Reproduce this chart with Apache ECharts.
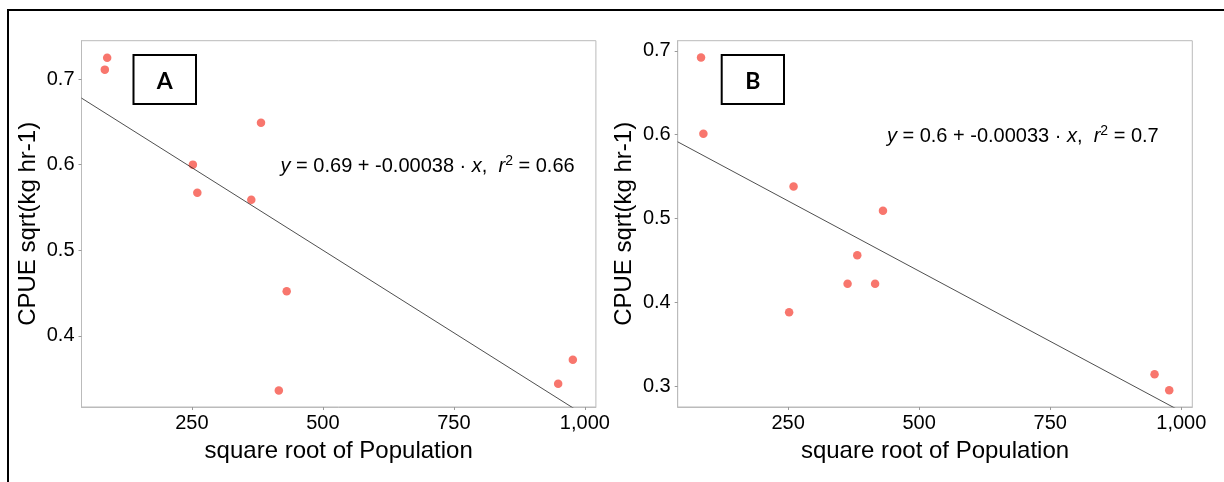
<!DOCTYPE html>
<html>
<head>
<meta charset="utf-8">
<script src="https://cdn.jsdelivr.net/npm/echarts@6/dist/echarts.min.js"></script>
<style>
  html, body { margin: 0; padding: 0; background: #fff; }
  #main { width: 1224px; height: 482px; }
</style>
</head>
<body>
<div id="main"></div>
<script>
// square root of Population (same sites in both panels)
var popA = [84, 88.5, 252, 260.5, 363.5, 382, 416, 431, 949, 977];
var cpueA = [0.711, 0.725, 0.600, 0.567, 0.559, 0.649, 0.336, 0.452, 0.344, 0.372];
var popB = [84, 88.5, 252, 260.5, 363.5, 382, 416, 431, 949, 977];
var cpueB = [0.692, 0.601, 0.388, 0.538, 0.422, 0.456, 0.422, 0.509, 0.314, 0.295];

// fitted lines
var intercepts = [0.693, 0.6046];
var slopes = [-0.000386, -0.000335];

var xTicks = [250, 500, 750, 1000];
var yTicksA = [0.4, 0.5, 0.6, 0.7];
var yTicksB = [0.3, 0.4, 0.5, 0.6, 0.7];

var xRange = [39.5, 1021];
var yRangeA = [0.3168, 0.7448];
var yRangeB = [0.2750, 0.7120];

var panelNames = ['A', 'B'];
var eqTexts = [
  '{i|y} = 0.69 + -0.00038 · {i|x},  {i|r}{s|2} = 0.66',
  '{i|y} = 0.6 + -0.00033 · {i|x},  {i|r}{s|2} = 0.7'
];

var FONT = 'Liberation Sans, Arial, sans-serif';
var pointColor = '#F8766D';

function pairs(xs, ys) {
  var out = [];
  for (var i = 0; i < xs.length; i++) out.push([xs[i], ys[i]]);
  return out;
}

function fitLine(k) {
  return [
    [xRange[0], intercepts[k] + slopes[k] * xRange[0]],
    [xRange[1], intercepts[k] + slopes[k] * xRange[1]]
  ];
}

function xAxisOf(idx) {
  return {
    type: 'value', gridIndex: idx,
    min: xRange[0], max: xRange[1],
    name: 'square root of Population',
    nameLocation: 'middle', nameGap: 32,
    nameTextStyle: { fontSize: 24, fontFamily: FONT, color: '#000' },
    axisLine: { show: true, lineStyle: { color: '#bbbbbb', width: 1 } },
    axisTick: { show: true, length: 3, customValues: xTicks, lineStyle: { color: '#999' } },
    axisLabel: {
      customValues: xTicks, margin: 6, fontSize: 20, fontFamily: FONT, color: '#000',
      formatter: function (v) { return v >= 1000 ? '1,000' : String(v); }
    },
    splitLine: { show: false }
  };
}

function yAxisOf(idx, range, ticks) {
  return {
    type: 'value', gridIndex: idx,
    min: range[0], max: range[1],
    name: 'CPUE sqrt(kg hr-1)',
    nameLocation: 'middle', nameGap: 41,
    nameTextStyle: { fontSize: 24, fontFamily: FONT, color: '#000' },
    axisLine: { show: true, lineStyle: { color: '#bbbbbb', width: 1 } },
    axisTick: { show: true, length: 3, customValues: ticks, lineStyle: { color: '#999' } },
    axisLabel: {
      customValues: ticks, margin: 7, fontSize: 20, fontFamily: FONT, color: '#000',
      formatter: function (v) { return v.toFixed(1); }
    },
    splitLine: { show: false }
  };
}

var chart = echarts.init(document.getElementById('main'), null, { renderer: 'canvas' });

var grids = [
  { left: 81.5, top: 40.7, width: 514.4, height: 366.3 },
  { left: 677.7, top: 40.7, width: 514.6, height: 366.3 }
];
var boxes = [
  { x: 133.5, y: 55, w: 62.5, h: 49 },
  { x: 721.7, y: 55, w: 62.3, h: 49 }
];
var eqPos = [[427.6, 166.7], [1022.8, 136.7]];

var graphics = [{
  type: 'rect', silent: true,
  shape: { x: 8, y: 10, width: 1400, height: 700 },
  style: { fill: 'none', stroke: '#000', lineWidth: 2 }
}];
for (var k = 0; k < 2; k++) {
  graphics.push({
    type: 'rect', silent: true,
    shape: { x: boxes[k].x, y: boxes[k].y, width: boxes[k].w, height: boxes[k].h },
    style: { fill: '#fff', stroke: '#000', lineWidth: 2 }
  });
  graphics.push({
    type: 'text', silent: true,
    x: boxes[k].x + boxes[k].w / 2, y: boxes[k].y + boxes[k].h / 2 + 2,
    style: {
      text: panelNames[k], fill: '#000', fontSize: 23, fontWeight: 'bold',
      fontFamily: 'Lato, Liberation Sans, sans-serif', align: 'center', verticalAlign: 'middle'
    }
  });
  graphics.push({
    type: 'text', silent: true,
    x: eqPos[k][0], y: eqPos[k][1],
    style: {
      text: eqTexts[k], fill: '#000', fontSize: 20, fontFamily: FONT,
      align: 'center', verticalAlign: 'middle',
      rich: {
        i: { fontSize: 20, fontStyle: 'italic', fontFamily: FONT, fill: '#000' },
        s: { fontSize: 14, fontFamily: FONT, fill: '#000', verticalAlign: 'top', padding: [0, 0, 12, 0] }
      }
    }
  });
}

var option = {
  backgroundColor: '#fff',
  animation: false,
  grid: grids.map(function (g) {
    return {
      left: g.left, top: g.top, width: g.width, height: g.height,
      containLabel: false, outerBoundsMode: 'none',
      show: true, borderColor: '#bbbbbb', borderWidth: 1, backgroundColor: 'transparent'
    };
  }),
  xAxis: [xAxisOf(0), xAxisOf(1)],
  yAxis: [yAxisOf(0, yRangeA, yTicksA), yAxisOf(1, yRangeB, yTicksB)],
  series: [
    {
      type: 'line', xAxisIndex: 0, yAxisIndex: 0, data: fitLine(0),
      symbol: 'none', clip: true, silent: true,
      lineStyle: { color: '#222', width: 0.8 }
    },
    {
      type: 'scatter', xAxisIndex: 0, yAxisIndex: 0, data: pairs(popA, cpueA),
      symbolSize: 8.5, itemStyle: { color: pointColor, opacity: 1 }
    },
    {
      type: 'line', xAxisIndex: 1, yAxisIndex: 1, data: fitLine(1),
      symbol: 'none', clip: true, silent: true,
      lineStyle: { color: '#222', width: 0.8 }
    },
    {
      type: 'scatter', xAxisIndex: 1, yAxisIndex: 1, data: pairs(popB, cpueB),
      symbolSize: 8.5, itemStyle: { color: pointColor, opacity: 1 }
    }
  ],
  graphic: graphics
};

chart.setOption(option);
</script>
</body>
</html>
